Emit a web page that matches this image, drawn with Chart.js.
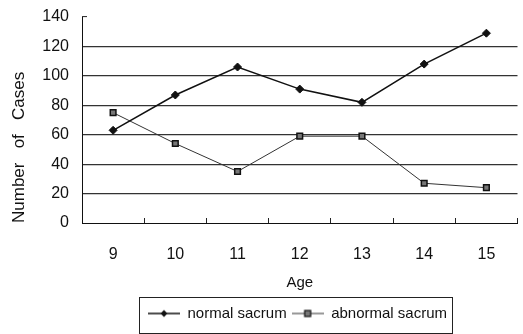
<!DOCTYPE html>
<html>
<head>
<meta charset="utf-8">
<script src="https://cdn.jsdelivr.net/npm/chart.js@4/dist/chart.umd.min.js"></script>
<style>
  html, body { margin: 0; padding: 0; background: #fff; }
  #wrap { width: 523px; height: 334px; position: relative; }
</style>
</head>
<body>
<div id="wrap"><canvas id="c" width="523" height="334"></canvas></div>
<script>
// Age groups and case counts
const ages = ['9', '10', '11', '12', '13', '14', '15'];
const normalSacrum = [63, 87, 106, 91, 82, 108, 129];
const abnormalSacrum = [75, 54, 35, 59, 59, 27, 24];
const seriesNames = ['normal sacrum', 'abnormal sacrum'];
const yTicks = [0, 20, 40, 60, 80, 100, 120, 140];

const FONT = "'Liberation Sans', Arial, sans-serif";

// Legend symbol: a short line with the series marker in the middle
function legendSymbol(kind) {
  const c = document.createElement('canvas');
  c.width = 32; c.height = 12;
  const g = c.getContext('2d');
  g.strokeStyle = kind === 'normal' ? '#111' : '#333';
  g.lineWidth = kind === 'normal' ? 1.5 : 1;
  g.beginPath(); g.moveTo(0, 6); g.lineTo(32, 6); g.stroke();
  if (kind === 'normal') {
    g.fillStyle = '#111';
    g.beginPath();
    g.moveTo(16, 2.5); g.lineTo(19.5, 6); g.lineTo(16, 9.5); g.lineTo(12.5, 6);
    g.closePath(); g.fill();
  } else {
    g.fillStyle = '#777';
    g.fillRect(13, 3, 6, 6);
    g.strokeStyle = '#111'; g.lineWidth = 1.2;
    g.strokeRect(13, 3, 6, 6);
  }
  return c;
}

// Box drawn around the legend row, and legend shifted right
const legendFrame = {
  id: 'legendFrame',
  afterLayout(chart) {
    const lg = chart.legend;
    if (!lg) return;
    lg.left += 37; lg.right += 37;
  },
  afterDraw(chart) {
    const lg = chart.legend;
    if (!lg || !lg.lineWidths) return;
    const pad = lg.options.labels.padding;
    const rowW = lg.lineWidths[0];
    const x0 = (lg.left + pad + lg.right - rowW) / 2;
    const x1 = x0 + rowW - pad;
    const ctx = chart.ctx;
    ctx.save();
    ctx.strokeStyle = '#222';
    ctx.lineWidth = 1;
    ctx.strokeRect(Math.round(x0 - 9) + 0.5, Math.round(lg.top - 4) + 0.5,
                   Math.round(x1 - x0 + 14), Math.round(lg.bottom - lg.top + 6));
    ctx.restore();
  }
};

new Chart(document.getElementById('c'), {
  type: 'line',
  data: {
    labels: ages,
    datasets: [
      {
        label: seriesNames[0],
        data: normalSacrum,
        borderColor: '#111',
        backgroundColor: '#111',
        borderWidth: 1.5,
        pointStyle: 'rectRot',
        pointRadius: 4,
        pointBorderWidth: 1,
        pointBackgroundColor: '#111',
        pointBorderColor: '#111',
        tension: 0
      },
      {
        label: seriesNames[1],
        data: abnormalSacrum,
        borderColor: '#333',
        backgroundColor: '#777',
        borderWidth: 1,
        pointStyle: 'rect',
        pointRadius: 4,
        pointBorderWidth: 1.5,
        pointBackgroundColor: '#777',
        pointBorderColor: '#111',
        tension: 0
      }
    ]
  },
  options: {
    responsive: false,
    animation: false,
    layout: { padding: { left: 0, right: 2, top: 17, bottom: 3 } },
    plugins: {
      tooltip: { enabled: false },
      legend: {
        position: 'bottom',
        labels: {
          usePointStyle: true,
          pointStyleWidth: 32,
          padding: 5,
          color: '#111',
          font: { family: FONT, size: 15 },
          generateLabels(chart) {
            return chart.data.datasets.map((ds, i) => ({
              text: ds.label,
              pointStyle: legendSymbol(i === 0 ? 'normal' : 'abnormal'),
              fillStyle: 'transparent',
              strokeStyle: 'transparent',
              lineWidth: 0,
              fontColor: '#111',
              datasetIndex: i,
              hidden: false
            }));
          }
        }
      }
    },
    scales: {
      x: {
        type: 'category',
        offset: true,
        grid: {
          offset: true,
          drawOnChartArea: false,
          drawTicks: true,
          tickLength: -5,
          tickColor: '#222',
          tickWidth: 1
        },
        border: { display: true, color: '#111', width: 1 },
        ticks: {
          color: '#111',
          padding: 27,
          font: { family: FONT, size: 16 }
        },
        title: {
          display: true,
          text: 'Age',
          color: '#111',
          font: { family: FONT, size: 15 },
          padding: { top: 0, bottom: 9 }
        },
        afterFit(scale) { scale.height = 78; }
      },
      y: {
        min: 0,
        max: 140,
        afterBuildTicks(scale) { scale.ticks = yTicks.map(v => ({ value: v })); },
        grid: {
          color: ctx => (ctx.tick && (ctx.tick.value === 140 || ctx.tick.value === 0)) ? 'rgba(0,0,0,0)' : '#333',
          lineWidth: 1.2,
          drawTicks: true,
          tickLength: -5,
          tickColor: ctx => (ctx.tick && ctx.tick.value === 140) ? '#222' : 'rgba(0,0,0,0)',
          tickWidth: 1
        },
        border: { display: true, color: '#111', width: 1 },
        ticks: {
          color: '#111',
          padding: 18,
          font: { family: FONT, size: 16 }
        },
        title: {
          display: true,
          text: 'Number   of   Cases',
          color: '#111',
          align: 'start',
          font: { family: FONT, size: 17 },
          padding: { top: 9, bottom: 0 }
        },
        afterFit(scale) {
          scale.width = 82;
          scale.paddingTop = 0;
          scale.paddingBottom = 0;
        }
      }
    }
  },
  plugins: [legendFrame]
});
</script>
</body>
</html>
